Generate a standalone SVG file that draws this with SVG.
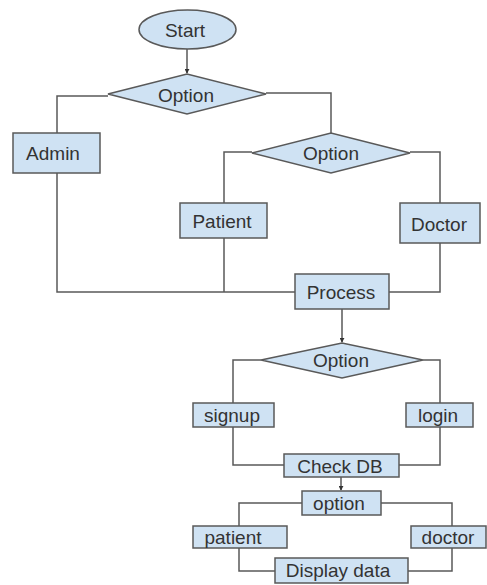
<svg xmlns="http://www.w3.org/2000/svg" width="487" height="585" viewBox="0 0 487 585">
<style>
.n{fill:#cfe2f3;stroke:#595959;stroke-width:1.5}
.t{font-family:"Liberation Sans",Arial,sans-serif;font-size:19px;fill:#333;text-anchor:middle}
.c{fill:none;stroke:#595959;stroke-width:1.5}
</style>
<defs>
<marker id="a" viewBox="0 0 6 6" refX="5" refY="3" markerWidth="5" markerHeight="5" orient="auto" markerUnits="userSpaceOnUse"><path d="M0,0 L6,3 L0,6 Z" fill="#333"/></marker>
</defs>
<rect width="487" height="585" fill="#fff"/>
<g id="connectors">
<path class="c" d="M187,49 V73" marker-end="url(#a)"/>
<path class="c" d="M108,96 H57 V133"/>
<path class="c" d="M266,93 H331 V133"/>
<path class="c" d="M252,152 H224 V203"/>
<path class="c" d="M410,152 H440 V203"/>
<path class="c" d="M57,173 V292 H295"/>
<path class="c" d="M224,238 V292"/>
<path class="c" d="M440,243 V292 H389"/>
<path class="c" d="M342,309 V342" marker-end="url(#a)"/>
<path class="c" d="M261,360 H233 V403"/>
<path class="c" d="M423,360 H440 V403"/>
<path class="c" d="M233,427 V465 H284"/>
<path class="c" d="M440,427 V465 H399"/>
<path class="c" d="M341,477 V490" marker-end="url(#a)"/>
<path class="c" d="M302,503 H239 V526"/>
<path class="c" d="M381,503 H452 V526"/>
<path class="c" d="M239,548 V571 H275"/>
<path class="c" d="M452,548 V571 H408"/>
</g>
<g id="start"><ellipse class="n" cx="187.5" cy="29.5" rx="48.5" ry="19.5"/><text class="t" x="185" y="37">Start</text></g>
<g id="option1"><polygon class="n" points="108,94 187,74 266,94 187,114"/><text class="t" x="186" y="102">Option</text></g>
<g id="admin"><rect class="n" x="13" y="133" width="87" height="40"/><text class="t" x="53" y="160">Admin</text></g>
<g id="option2"><polygon class="n" points="252,153 331,133 410,153 331,173"/><text class="t" x="331" y="160">Option</text></g>
<g id="patient"><rect class="n" x="180" y="203" width="87" height="35"/><text class="t" x="222" y="228">Patient</text></g>
<g id="doctor"><rect class="n" x="400" y="203" width="80" height="40"/><text class="t" x="439" y="231">Doctor</text></g>
<g id="process"><rect class="n" x="295" y="274" width="94" height="35"/><text class="t" x="341" y="299">Process</text></g>
<g id="option3"><polygon class="n" points="261,360 342,343 423,360 342,378"/><text class="t" x="341" y="367">Option</text></g>
<g id="signup"><rect class="n" x="193" y="403" width="81" height="24"/><text class="t" x="232" y="422">signup</text></g>
<g id="login"><rect class="n" x="406" y="403" width="67" height="24"/><text class="t" x="438" y="422">login</text></g>
<g id="checkdb"><rect class="n" x="284" y="454" width="115" height="23"/><text class="t" x="340" y="473">Check DB</text></g>
<g id="option4"><rect class="n" x="302" y="491" width="79" height="24"/><text class="t" x="339" y="510">option</text></g>
<g id="patient2"><rect class="n" x="193" y="526" width="94" height="22"/><text class="t" x="233" y="544">patient</text></g>
<g id="doctor2"><rect class="n" x="411" y="526" width="75" height="22"/><text class="t" x="448" y="544">doctor</text></g>
<g id="display"><rect class="n" x="275" y="558" width="133" height="25"/><text class="t" x="338" y="577">Display data</text></g>
</svg>
